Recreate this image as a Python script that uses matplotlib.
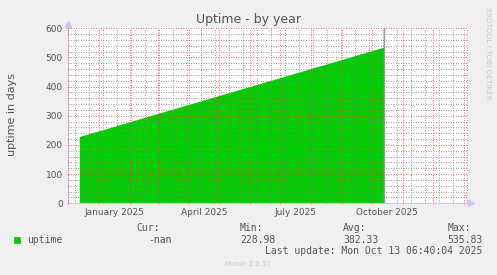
import matplotlib
matplotlib.use("Agg")
import matplotlib.pyplot as plt
import matplotlib.dates as mdates
import pandas as pd

# data
dates = ["2024-12-12", "2025-10-13"]
uptime = [228.98, 535.83]
y_ticks = [0, 100, 200, 300, 400, 500, 600]
month_labels = ["January 2025", "April 2025", "July 2025", "October 2025"]
label_dates = ["2025-01-16", "2025-04-16", "2025-07-16", "2025-10-16"]
legend_cols = ["Cur:", "Min:", "Avg:", "Max:"]
legend_vals = ["-nan", "228.98", "382.33", "535.83"]

W, H = 497, 275
BG = "#f0f0f0"
TXT = "#555555"
GREEN = "#00cc00"
MAJ = (1.0, 0.25, 0.25, 0.26)
MIN = (0.5, 0.5, 0.5, 0.20)
AXIS = "#c8c8ff"


def fx(px):
    return px / W


def fy(py):
    return 1 - py / H


fig = plt.figure(figsize=(W / 100, H / 100), dpi=100, facecolor=BG)
left, right, top, bottom = 67.7, 468.0, 28.3, 203.3
ax = fig.add_axes([fx(left), fy(bottom), fx(right - left), (bottom - top) / H])
ax.set_facecolor("white")

x = pd.to_datetime(dates)
ax.fill_between(x, 0, uptime, color=GREEN, lw=0, zorder=1)
ax.axvline(x[-1], color="#9a9a9a", lw=1, zorder=3)

d0 = mdates.date2num(pd.Timestamp("2024-12-01"))
ax.set_xlim(d0 - 0.6, d0 + 399.7)
ax.set_ylim(0, 600)

months = pd.date_range("2024-12-01", "2026-01-01", freq="MS")
biweek = pd.date_range("2024-12-08", "2026-01-04", freq="14D")
ax.set_xticks(months)
ax.set_xticks(biweek, minor=True)
ax.set_yticks(y_ticks)
ax.set_yticks(range(0, 601, 20), minor=True)
ax.set_xticklabels([])

ax.set_axisbelow(False)
ax.grid(which="minor", color=MIN, ls=(0, (1, 2)), lw=0.6)
ax.grid(which="major", color=MAJ, ls=(0, (1, 2)), lw=0.6)

ax.tick_params(which="major", direction="inout", length=3, width=0.6, color=MAJ,
               labelsize=6.5, labelcolor=TXT, pad=2)
ax.tick_params(which="minor", direction="inout", length=2, width=0.6, color=MIN)
ax.tick_params(axis="x", which="major", labelbottom=False)

for s in ["top", "right"]:
    ax.spines[s].set_visible(False)
for s in ["left", "bottom"]:
    ax.spines[s].set_color(AXIS)
    ax.spines[s].set_linewidth(0.8)

# axis arrows
ax.plot([0], [1.025], marker="^", ms=4, color=AXIS, transform=ax.transAxes, clip_on=False)
ax.plot([1.007], [0], marker=">", ms=4, color=AXIS, transform=ax.transAxes, clip_on=False)

for lab, d in zip(month_labels, label_dates):
    ax.text(pd.Timestamp(d), -0.054, lab, transform=ax.get_xaxis_transform(),
            ha="center", va="center", fontsize=6.5, color=TXT)

fig.text(fx(249), fy(19), "Uptime - by year", ha="center", va="center",
         fontsize=9, color=TXT)
fig.text(fx(12), fy(114.7), "uptime in days", rotation=90, ha="center",
         va="center", fontsize=8, color=TXT)
fig.text(fx(487.7), fy(53.5), "RRDTOOL / TOBI OETIKER", rotation=-90,
         ha="center", va="center", fontsize=5.2, color="#c8c8c8")
fig.text(fx(248), fy(264), "Munin 2.0.57", ha="center", va="center",
         fontsize=5, color="#c8c8c8")

# legend block
mono = dict(family="DejaVu Sans Mono", fontsize=7, color=TXT, va="center")
col_x = [136.7, 240, 343.3, 447.3]
for lab, cx in zip(legend_cols, col_x):
    fig.text(fx(cx), fy(227.7), lab, ha="left", **mono)
fig.text(fx(171.7), fy(240), legend_vals[0], ha="right", **mono)
for val, cx in zip(legend_vals[1:], col_x[1:]):
    fig.text(fx(cx), fy(240), val, ha="left", **mono)
fig.patches.append(plt.Rectangle((fx(14), fy(242.7)), fx(6), 6 / H,
                                 transform=fig.transFigure, facecolor=GREEN,
                                 edgecolor="#00b000", lw=0.4))
fig.text(fx(26.7), fy(240), "uptime", ha="left", **mono)
fig.text(fx(482.3), fy(251), "Last update: Mon Oct 13 06:40:04 2025",
         ha="right", **mono)

fig.savefig("out.png", dpi=100, facecolor=BG)
